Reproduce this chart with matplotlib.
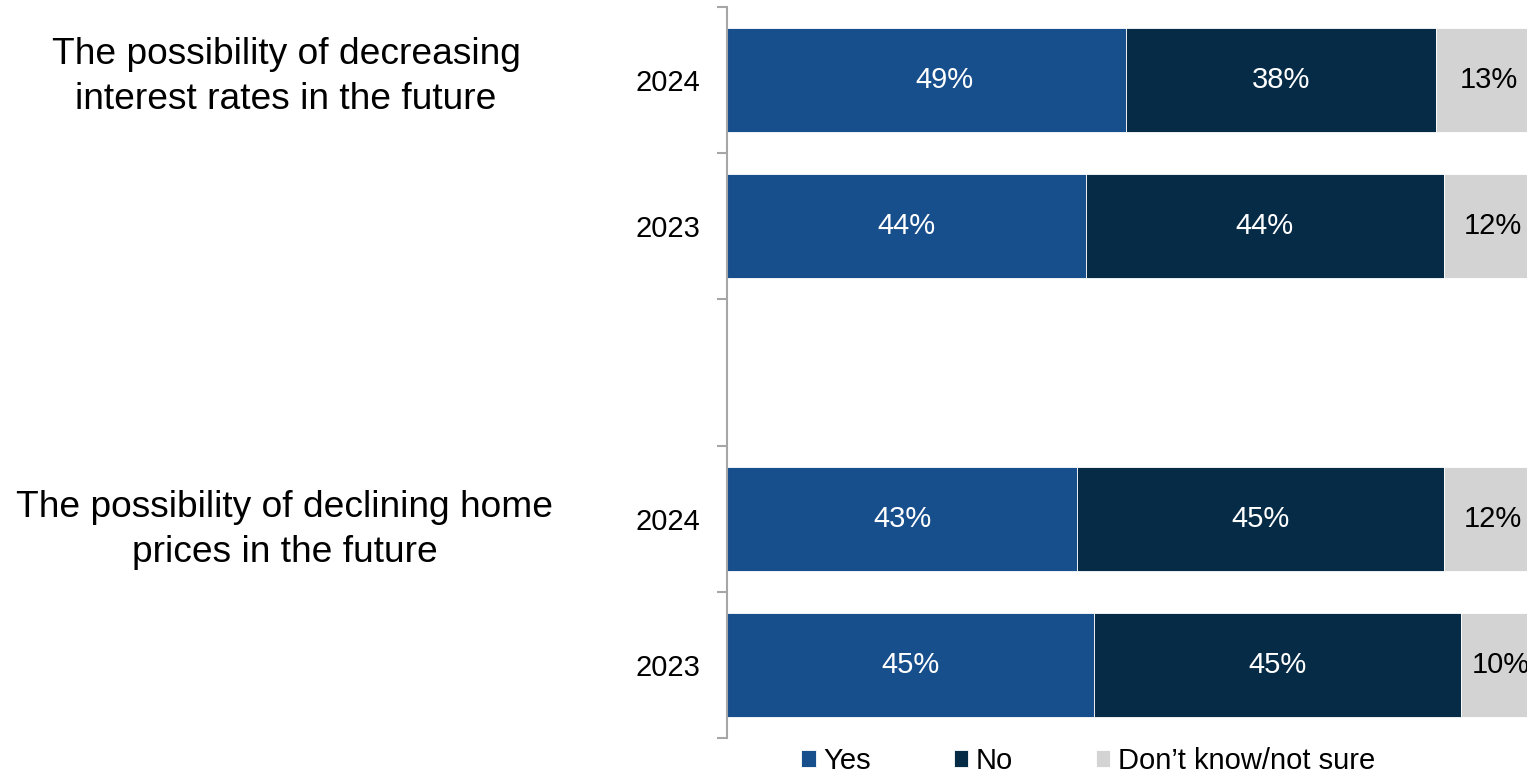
import matplotlib.pyplot as plt
from matplotlib.ticker import FixedLocator

plt.rcParams['font.family'] = ['Liberation Sans', 'DejaVu Sans']

# ------------------------------------------------------------
# Data
# ------------------------------------------------------------
years = ["2024", "2023", "", "2024", "2023"]
groups = [
    "The possibility of decreasing\ninterest rates in the future",
    "The possibility of declining home\nprices in the future",
]
rows = [0, 1, 3, 4]          # slot 2 stays empty between the two groups
yes = [49, 44, 43, 45]
no = [38, 44, 45, 45]
dont_know = [13, 12, 12, 10]

series = [
    ("Yes", yes, "#174E8C", "white"),
    ("No", no, "#062B47", "white"),
    ("Don\u2019t know/not sure", dont_know, "#D3D3D3", "black"),
]

# small horizontal nudges for individual value labels (series, row) -> %
label_nudge = {(0, 0): 2.2}

# ------------------------------------------------------------
# Figure / axes (the 100% end sits just past the right edge)
# ------------------------------------------------------------
W, H = 1527, 773
fig = plt.figure(figsize=(W / 100, H / 100), dpi=100)
ax = fig.add_axes([727 / W, (H - 738) / H, 815 / W, 731 / H])

left = [0] * len(rows)
handles = []
for s, (name, vals, color, txt_color) in enumerate(series):
    bars = ax.barh(rows, vals, left=left, height=0.71, color=color,
                   edgecolor="white", linewidth=0.6, label=name)
    handles.append(bars)
    for i, (r, l, v) in enumerate(zip(rows, left, vals)):
        x = l + v / 2 + label_nudge.get((s, i), 0)
        ax.text(x, r, f"{v}%", ha="center", va="center",
                fontsize=21, color=txt_color)
    left = [a + b for a, b in zip(left, vals)]

ax.set_xlim(0, 100)
ax.set_ylim(4.5, -0.5)

# Year labels on major ticks, slot boundaries on minor ticks
ax.set_yticks(range(len(years)))
ax.set_yticklabels(years, fontsize=21)
ax.tick_params(axis="y", which="major", length=0, pad=19)
ax.yaxis.set_minor_locator(FixedLocator([i - 0.5 for i in range(len(years) + 1)]))
ax.tick_params(axis="y", which="minor", length=7, width=1.5, color="#A6A6A6")
ax.set_xticks([])

for side in ["top", "right", "bottom"]:
    ax.spines[side].set_visible(False)
ax.spines["left"].set_color("#A6A6A6")
ax.spines["left"].set_linewidth(1.5)

# Group headings on the left
fig.text(286 / W, 1 - 77 / H, groups[0], ha="center", va="center",
         fontsize=26.7, linespacing=1.4)
fig.text(285 / W, 1 - 530 / H, groups[1], ha="center", va="center",
         fontsize=26.7, linespacing=1.4)

# ------------------------------------------------------------
# Legend
# ------------------------------------------------------------
fig.legend(handles=handles, loc="center", bbox_to_anchor=(1088 / W, 1 - 761 / H),
           ncol=3, frameon=False, fontsize=21, handlelength=0.5,
           handleheight=0.5, handletextpad=0.25, columnspacing=2.85,
           borderpad=0, borderaxespad=0)

fig.savefig("out.png", dpi=100)
